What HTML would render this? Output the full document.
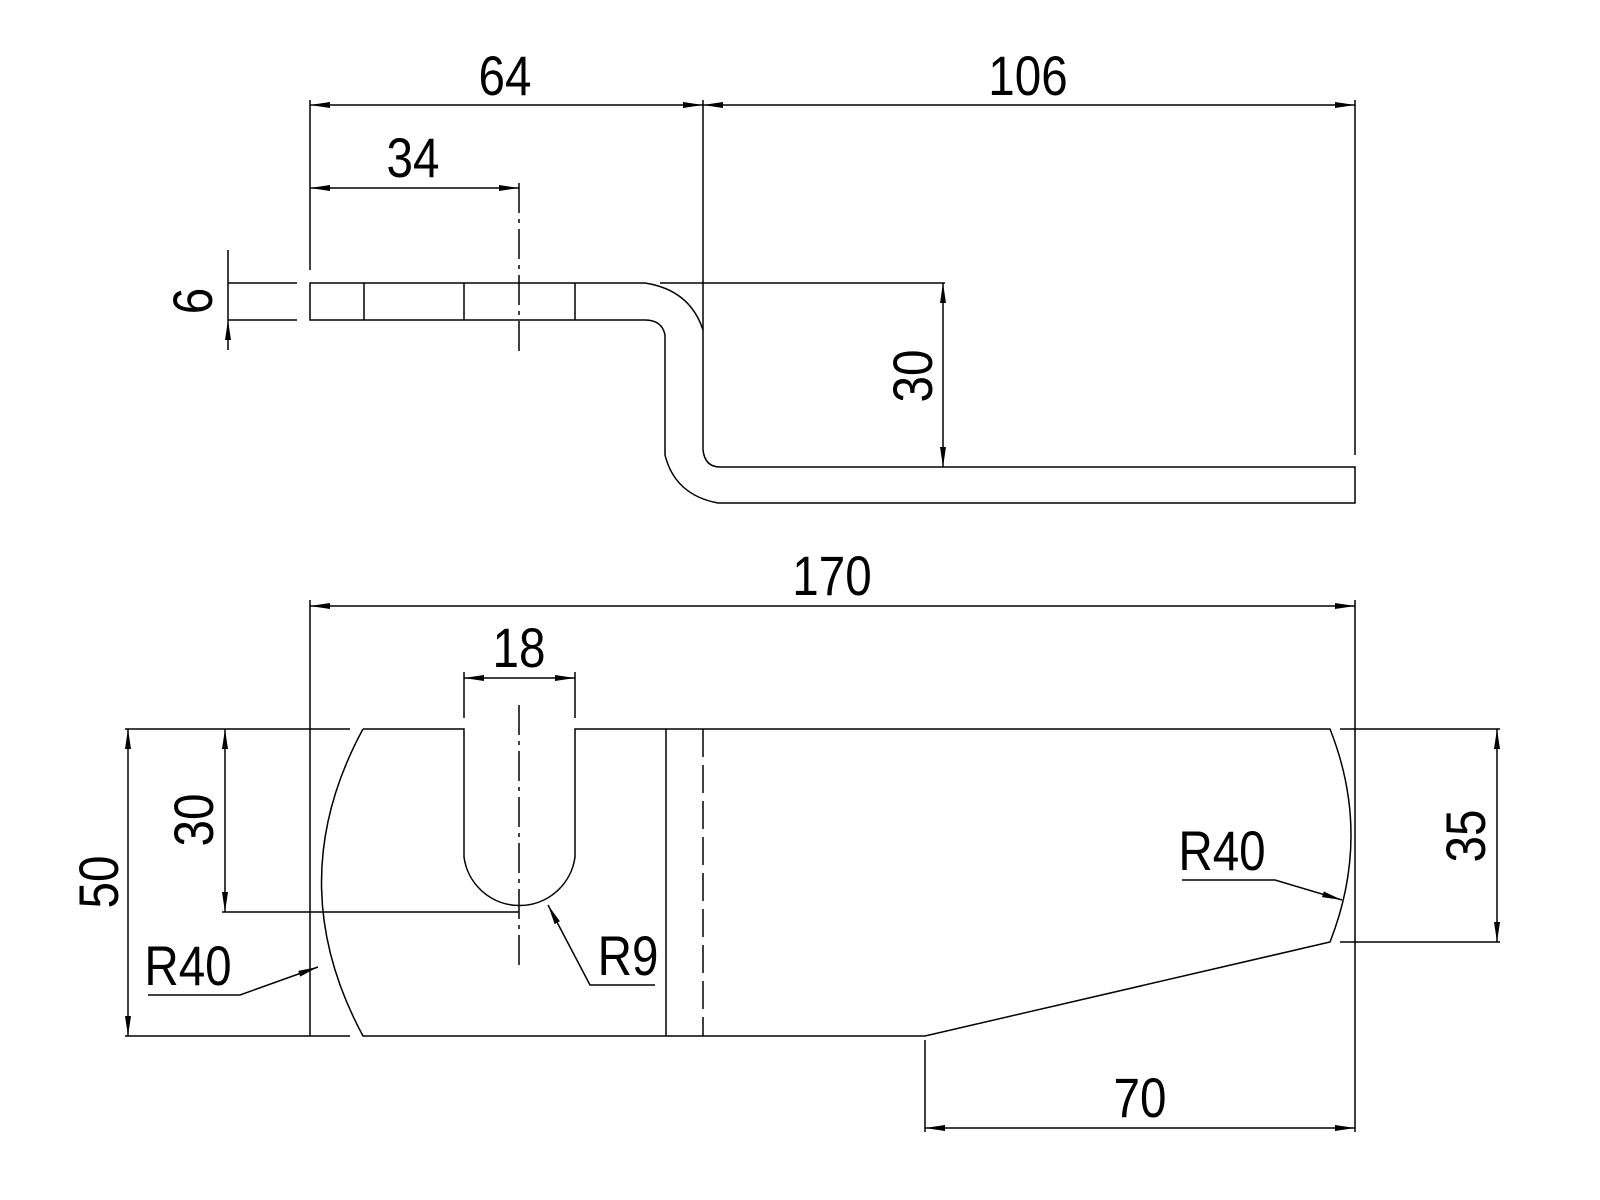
<!DOCTYPE html>
<html><head><meta charset="utf-8"><style>html,body{margin:0;background:#fff}svg{display:block}</style></head>
<body>
<svg width="1600" height="1200" viewBox="0 0 1600 1200" xmlns="http://www.w3.org/2000/svg">
<defs>
<marker id="a" viewBox="0 0 20 8" refX="20" refY="4" markerWidth="20" markerHeight="8" markerUnits="userSpaceOnUse" orient="auto-start-reverse"><path d="M0,1 L20,4 L0,7z" fill="#000"/></marker>
</defs>
<g fill="none" stroke="#000" stroke-width="1.5">
<!-- top view -->
<path d="M310,283 H645 Q690,290 703,330 V450 Q705,467 720,467 H1355 V503 H718 Q675,495 665,455 V335 Q662,320 645,320 H310 Z"/>
<path d="M364,283V320M464,283V320M575,283V320"/>
<path d="M228,283H297M228,320H297M660,283H945M228,283V320"/>
<path d="M310,100V270M703,100V330M1355,100V455"/>
<path d="M519,183V355" stroke-dasharray="30,6,4,6"/>
<path d="M228,250V283M228,350V320" marker-end="url(#a)"/>
<path d="M310,105H703" marker-start="url(#a)" marker-end="url(#a)"/>
<path d="M703,105H1355" marker-start="url(#a)" marker-end="url(#a)"/>
<path d="M310,188H519" marker-start="url(#a)" marker-end="url(#a)"/>
<path d="M943,283V467" marker-start="url(#a)" marker-end="url(#a)"/>
<!-- bottom view -->
<path d="M363,729 Q280,882 363,1036 H925 L1330,942 Q1372,835 1330,729 H575 V857 A56,56 0 0 1 464,857 V729 H363"/>
<path d="M666,729V1036"/>
<path d="M703,729V1036" stroke-dasharray="28,8"/>
<path d="M519,705V965" stroke-dasharray="30,6,4,6"/>
<path d="M125,729H350M125,1036H350M222,912H519M464,672V718M575,672V718"/>
<path d="M310,600V1036M1355,600V1132M1340,729H1500M1340,942H1500M925,1040V1132"/>
<path d="M128,729V1036" marker-start="url(#a)" marker-end="url(#a)"/>
<path d="M225,729V912" marker-start="url(#a)" marker-end="url(#a)"/>
<path d="M464,678H575" marker-start="url(#a)" marker-end="url(#a)"/>
<path d="M310,606H1355" marker-start="url(#a)" marker-end="url(#a)"/>
<path d="M1497,729V942" marker-start="url(#a)" marker-end="url(#a)"/>
<path d="M925,1128H1355" marker-start="url(#a)" marker-end="url(#a)"/>
<path d="M148,995H240L318,967" marker-end="url(#a)"/>
<path d="M655,985H590L548,905" marker-end="url(#a)"/>
<path d="M1182,880H1275L1342,900" marker-end="url(#a)"/>
</g>
<g font-family="Liberation Sans Narrow, Liberation Sans, sans-serif" font-size="56" text-anchor="middle" fill="#000">
<text x="505" y="95" transform="translate(505 0) scale(0.85 1) translate(-505 0)">64</text>
<text x="1028" y="95" transform="translate(1028 0) scale(0.85 1) translate(-1028 0)">106</text>
<text x="413" y="177" transform="translate(413 0) scale(0.85 1) translate(-413 0)">34</text>
<text transform="translate(212 301) rotate(-90) scale(0.85 1)" y="0">6</text>
<text transform="translate(932 376) rotate(-90) scale(0.85 1)">30</text>
<text x="832" y="595" transform="translate(832 0) scale(0.85 1) translate(-832 0)">170</text>
<text x="519" y="667" transform="translate(519 0) scale(0.85 1) translate(-519 0)">18</text>
<text transform="translate(118 882) rotate(-90) scale(0.85 1)">50</text>
<text transform="translate(213 820) rotate(-90) scale(0.85 1)">30</text>
<text transform="translate(1485 836) rotate(-90) scale(0.85 1)">35</text>
<text x="1140" y="1117" transform="translate(1140 0) scale(0.85 1) translate(-1140 0)">70</text>
<text x="188" y="985" transform="translate(188 0) scale(0.85 1) translate(-188 0)">R40</text>
<text x="628" y="975" transform="translate(628 0) scale(0.85 1) translate(-628 0)">R9</text>
<text x="1222" y="870" transform="translate(1222 0) scale(0.85 1) translate(-1222 0)">R40</text>
</g>
</svg>
</body></html>
